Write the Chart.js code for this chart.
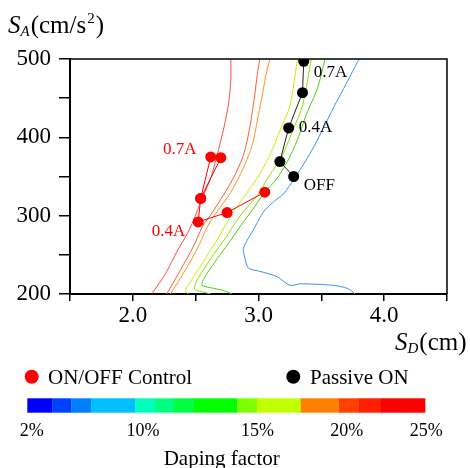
<!DOCTYPE html>
<html>
<head>
<meta charset="utf-8">
<script src="https://cdn.jsdelivr.net/npm/chart.js@4.4.1/dist/chart.umd.min.js"></script>
<style>
body { margin: 0; background: #fff; }
canvas { display: block; }
</style>
</head>
<body>
<canvas id="myChart" width="470" height="468"></canvas>
<script>
// damping factor contours, [SD, SA] pairs
const contourA = [[2.78,500],[2.78,473],[2.76,441],[2.72,409],[2.67,377],[2.62,348],[2.56,325],[2.50,301],[2.44,279],[2.35,254],[2.26,226],[2.15,200]];
const contourB = [[3.01,500],[2.99,480],[2.97,454],[2.93,412],[2.88,377],[2.80,348],[2.72,326],[2.62,301],[2.56,288],[2.48,260],[2.38,231],[2.27,200]];
const contourC = [[3.09,500],[3.06,480],[3.03,454],[3.00,429],[2.95,390],[2.88,361],[2.78,330],[2.67,305],[2.60,288],[2.52,260],[2.42,231],[2.30,200]];
const contourD = [[3.31,500],[3.25,440],[3.18,412],[3.09,377],[2.99,348],[2.88,323],[2.77,297],[2.67,269],[2.58,246],[2.50,226],[2.45,213],[2.42,205],[2.44,200]];
const contourE = [[3.42,500],[3.35,440],[3.28,412],[3.19,377],[3.09,352],[2.99,326],[2.89,307],[2.82,292],[2.74,272],[2.64,250],[2.55,228],[2.50,214],[2.49,206],[2.55,203],[2.62,200]];
const contourF = [[3.53,500],[3.47,463],[3.38,429],[3.31,397],[3.23,369],[3.14,346],[3.05,330],[2.95,307],[2.88,292],[2.78,269],[2.69,249],[2.61,231],[2.56,218],[2.55,211],[2.62,208],[2.71,205],[2.79,200]];
const contourG = [[3.80,500],[3.70,469],[3.60,439],[3.52,413],[3.44,388],[3.36,366],[3.28,346],[3.20,328],[3.13,319],[3.05,307],[3.00,294],[2.96,282],[2.88,259],[2.89,247],[2.92,233],[3.01,229],[3.15,222],[3.25,211],[3.33,213],[3.60,211],[3.71,207],[3.77,200]];
const contours = [contourA, contourB, contourC, contourD, contourE, contourF, contourG];
const contourColors = ['#ff4a3a', '#ff5a30', '#ff9020', '#c4f000', '#8ee000', '#44d400', '#3a90f0'];

// Passive ON (black)
const passiveSD = [3.36, 3.35, 3.24, 3.17, 3.28];
const passiveSA = [497, 457, 412, 369, 350];
// ON/OFF control (red)
const onoffSD = [2.70, 2.54, 2.52, 2.75, 3.05];
const onoffSA = [374, 322, 292, 304, 330];
const onoffSD2 = [2.62, 2.54];
const onoffSA2 = [375, 322];

// point labels
const labelText = ['0.7A', '0.4A', 'OFF', '0.7A', '0.4A'];
const labelSD = [3.44, 3.32, 3.36, 2.24, 2.15];
const labelSA = [483, 413, 338, 385, 280];
const labelColor = ['#000', '#000', '#000', '#f00', '#f00'];

// colour bar
const barColors = ['#0000ff','#0040ff','#0080ff','#00bfff','#00ffbf','#00ff80','#00ff40','#00ff00','#80ff00','#bfff00','#ff8000','#ff4000','#ff2000','#ff0000'];
const barWidths = [25,19,20,44,19.4,19.3,20,43.3,19.7,43.7,38.3,19.3,22.7,44];
const barLabels = ['2%', '10%', '15%', '20%', '25%'];
const barLabelX = [31.7, 143, 257.5, 346.7, 426.3];

const serif = '"Liberation Serif", "Times New Roman", serif';
Chart.defaults.font.family = serif;
Chart.defaults.color = '#000';

function pts(xs, ys) {
    return xs.map((x, i) => ({ x: x, y: ys[i] }));
}

const datasets = [
    {
        data: pts(passiveSD, passiveSA),
        showLine: true,
        borderColor: '#222',
        borderWidth: 1,
        backgroundColor: '#000',
        pointRadius: 5.5,
        pointBorderWidth: 0
    },
    {
        data: pts(onoffSD, onoffSA),
        showLine: true,
        borderColor: '#f00',
        borderWidth: 1,
        backgroundColor: '#f00',
        pointRadius: 5.5,
        pointBorderWidth: 0
    },
    {
        data: pts(onoffSD2, onoffSA2),
        showLine: true,
        borderColor: '#f00',
        borderWidth: 1,
        backgroundColor: '#f00',
        pointRadius: 5.5,
        pointBorderWidth: 0
    }
];
contours.forEach((c, i) => {
    datasets.push({
        data: c.map(p => ({ x: p[0], y: p[1] })),
        showLine: true,
        borderColor: contourColors[i],
        borderWidth: 1,
        pointRadius: 0,
        tension: 0.25
    });
});

function drawTitle(c, x, y, sub, unit, sup) {
    c.textAlign = 'left';
    c.textBaseline = 'alphabetic';
    c.font = 'italic 25px ' + serif;
    c.fillText('S', x, y);
    x += c.measureText('S').width;
    c.font = 'italic 15px ' + serif;
    c.fillText(sub, x, y + 3);
    x += c.measureText(sub).width + 1;
    c.font = '25px ' + serif;
    c.fillText('(' + unit, x, y);
    x += c.measureText('(' + unit).width;
    if (sup) {
        c.font = '15px ' + serif;
        c.fillText(sup, x + 1, y - 10);
        x += c.measureText(sup).width + 2;
        c.font = '25px ' + serif;
    }
    c.fillText(')', x, y);
}

const extras = {
    id: 'extras',
    afterDraw(chart) {
        const c = chart.ctx, a = chart.chartArea;
        const xs = chart.scales.x, ys = chart.scales.y;
        c.save();
        c.fillStyle = '#000';
        c.strokeStyle = '#000';
        c.lineWidth = 1.5;
        c.beginPath();
        c.moveTo(a.left, a.top);
        c.lineTo(a.right, a.top);
        c.lineTo(a.right, a.bottom);
        c.stroke();

        c.font = '17px ' + serif;
        c.textAlign = 'left';
        c.textBaseline = 'middle';
        labelText.forEach((t, i) => {
            c.fillStyle = labelColor[i];
            c.fillText(t, xs.getPixelForValue(labelSD[i]), ys.getPixelForValue(labelSA[i]));
        });

        c.fillStyle = '#000';
        drawTitle(c, 8, 33, 'A', 'cm/s', '2');
        drawTitle(c, 395, 350, 'D', 'cm', null);

        // legend
        c.beginPath();
        c.fillStyle = '#f00';
        c.arc(31.7, 376.7, 7, 0, Math.PI * 2);
        c.fill();
        c.beginPath();
        c.fillStyle = '#000';
        c.arc(293.3, 376.7, 7, 0, Math.PI * 2);
        c.fill();
        c.font = '21px ' + serif;
        c.textBaseline = 'middle';
        c.fillText('ON/OFF Control', 48, 378);
        c.fillText('Passive ON', 310, 378);

        // colour bar
        let bx = 27.3;
        barColors.forEach((col, i) => {
            c.fillStyle = col;
            c.fillRect(bx, 398.3, barWidths[i] + 0.3, 14.4);
            bx += barWidths[i];
        });
        c.fillStyle = '#000';
        c.font = '18px ' + serif;
        c.textAlign = 'center';
        barLabels.forEach((t, i) => c.fillText(t, barLabelX[i], 431));
        c.font = '21px ' + serif;
        c.fillText('Daping factor', 221.7, 459);
        c.restore();
    }
};

const myChart = new Chart(document.getElementById('myChart'), {
    type: 'scatter',
    data: { datasets: datasets },
    options: {
        responsive: false,
        animation: false,
        layout: { padding: { left: 0, top: 59, right: 23, bottom: 134 } },
        plugins: { legend: { display: false }, tooltip: { enabled: false } },
        scales: {
            x: {
                min: 1.5,
                max: 4.5,
                afterFit: s => { s.height = 40; },
                border: { color: '#000', width: 2 },
                grid: { drawOnChartArea: false, color: '#000', lineWidth: 1.5, tickLength: 7 },
                ticks: {
                    stepSize: 0.5,
                    autoSkip: false,
                    maxRotation: 0,
                    padding: 1,
                    font: { size: 23 },
                    callback: v => (Math.abs(v - Math.round(v)) < 1e-6 && v > 1.6 && v < 4.4) ? v.toFixed(1) : ''
                }
            },
            y: {
                min: 200,
                max: 500,
                afterFit: s => { s.width = 70; },
                border: { color: '#000', width: 2 },
                grid: { drawOnChartArea: false, color: '#000', lineWidth: 1.5, tickLength: 11 },
                ticks: {
                    stepSize: 50,
                    autoSkip: false,
                    padding: 8,
                    font: { size: 23 },
                    callback: v => v % 100 === 0 ? String(v) : ''
                }
            }
        }
    },
    plugins: [extras]
});
</script>
</body>
</html>
